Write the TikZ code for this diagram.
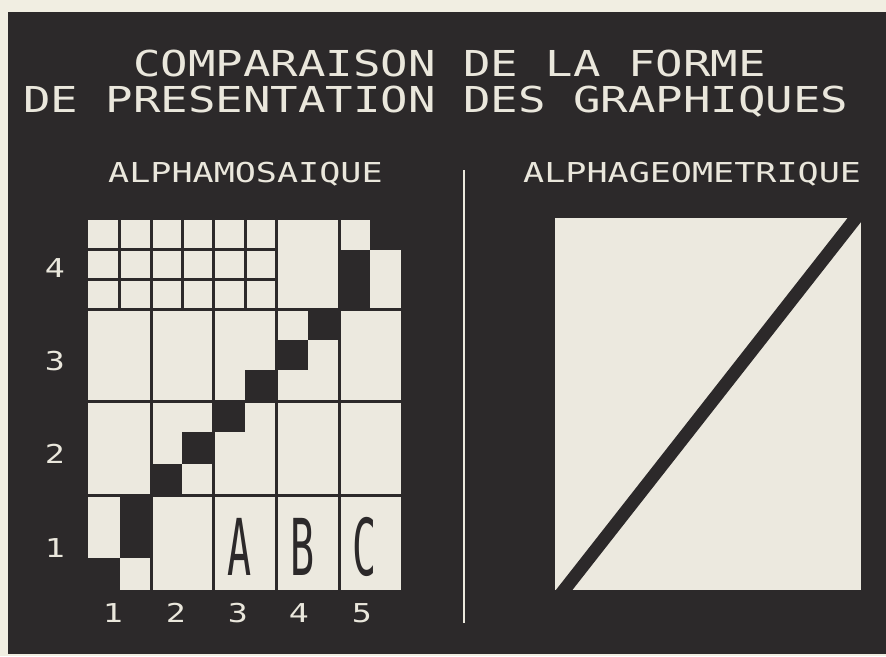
\documentclass[tikz,border=0pt]{standalone}
\usepackage{graphicx}
\usepackage{fontspec}
\newfontfamily\screenfont{DejaVu Sans Mono}
\definecolor{screen}{HTML}{2C292A}
\definecolor{paper}{HTML}{F1EEE2}
\definecolor{cellc}{HTML}{ECE9DF}
\definecolor{glow}{HTML}{EAE7DC}
\newcommand{\widetext}[1]{\scalebox{1.28}[1]{#1}}
\newcommand{\tallglyph}[1]{\scalebox{1}[1.96]{#1}}
\tikzset{
  titletext/.style={text=glow, inner sep=0pt, anchor=base west, font=\screenfont\fontsize{35.7}{36}\selectfont},
  subtext/.style={text=glow, inner sep=0pt, anchor=base west, font=\screenfont\fontsize{27.4}{28}\selectfont},
  digit/.style={text=glow, inner sep=0pt, anchor=base, font=\screenfont\fontsize{26}{26}\selectfont},
  bigletter/.style={text=screen, inner sep=0pt, anchor=base, font=\screenfont\fontsize{40}{40}\selectfont},
  gridline/.style={draw=screen, line width=3pt},
  darkcell/.style={fill=screen},
}
\begin{document}
\begin{tikzpicture}[x=1pt,y=-1pt]
\useasboundingbox (0,0) rectangle (886,656);
\fill[paper] (0,0) rectangle (886,656);
\fill[screen] (8,12) rectangle (886,654);

% titles
\node[titletext] (t1) at (133,76) {\widetext{COMPARAISON DE LA FORME}};
\node[titletext] (t2) at (23,112) {\widetext{DE PRESENTATION DES GRAPHIQUES}};
\node[subtext] (s1) at (108,182) {\widetext{ALPHAMOSAIQUE}};
\node[subtext] (s2) at (523,182) {\widetext{ALPHAGEOMETRIQUE}};

% separator
\draw[glow, line width=2pt] (464,170) -- (464,623);

% ---- alphamosaic grid ----
\fill[cellc] (88,220) rectangle (401,590);
% dark mosaic cells (staircase)
\fill[darkcell] (370,220) rectangle (401,249.7);
\fill[darkcell] (339,249.7) rectangle (370,309);
\fill[darkcell] (307.5,309) rectangle (339,339.7);
\fill[darkcell] (276,339.7) rectangle (307.5,370.3);
\fill[darkcell] (245,370.3) rectangle (276,401);
\fill[darkcell] (213.5,401) rectangle (245,432.3);
\fill[darkcell] (182,432.3) rectangle (213.5,463.7);
\fill[darkcell] (151,463.7) rectangle (182,495);
\fill[darkcell] (119.5,495) rectangle (151,558.3);
\fill[darkcell] (88,558.3) rectangle (119.5,590);
% main grid lines
\foreach \gx in {151,213.5,276,339} \draw[gridline] (\gx,220) -- (\gx,590);
\foreach \gy in {309,401,495} \draw[gridline] (88,\gy) -- (401,\gy);
% fine grid in the top-left block
\foreach \gx in {119.5,182,245} \draw[gridline] (\gx,220) -- (\gx,309);
\foreach \gy in {249.7,279.3} \draw[gridline] (88,\gy) -- (276,\gy);

% letters in the bottom row
\node[bigletter] (la) at (240,575) {\tallglyph{A}};
\node[bigletter] (lb) at (302.5,575) {\tallglyph{B}};
\node[bigletter] (lc) at (365,575) {\tallglyph{C}};

% row labels
\node[digit] (r4) at (55,277) {\widetext{4}};
\node[digit] (r3) at (55,370) {\widetext{3}};
\node[digit] (r2) at (55,463) {\widetext{2}};
\node[digit] (r1) at (55,557) {\widetext{1}};
% column labels
\node[digit] (c1) at (113,622) {\widetext{1}};
\node[digit] (c2) at (176,622) {\widetext{2}};
\node[digit] (c3) at (238,622) {\widetext{3}};
\node[digit] (c4) at (299,622) {\widetext{4}};
\node[digit] (c5) at (362,622) {\widetext{5}};

% ---- alphageometric panel ----
\fill[cellc] (555,218) rectangle (861,590);
\begin{scope}
  \clip (555,218) rectangle (861,590);
  \draw[screen, line width=13pt] (561,594) -- (859,214);
\end{scope}
\end{tikzpicture}
\end{document}
